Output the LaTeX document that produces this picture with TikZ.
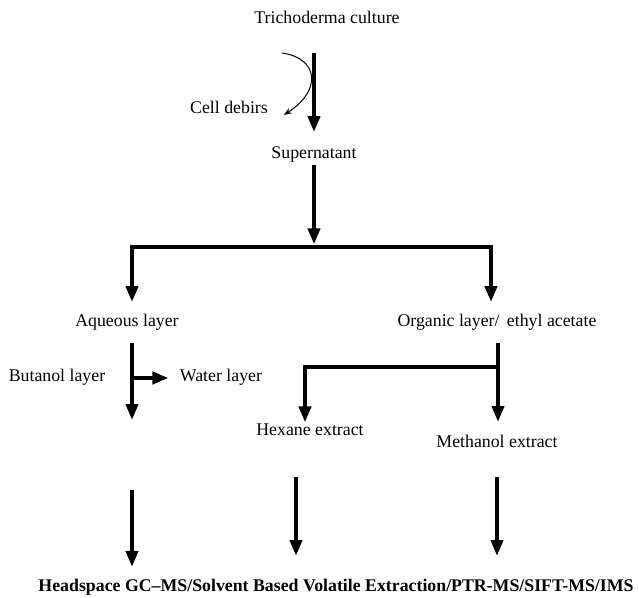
\documentclass[tikz,border=0pt]{standalone}
\usepackage{fontspec}
\setmainfont{Liberation Serif}
\usepackage{tikz}
\usetikzlibrary{arrows.meta,positioning,calc}

\begin{document}
\begin{tikzpicture}[
    x=0.75pt, y=-0.75pt,
    stage/.style={inner sep=2pt, text height=0.75em, text depth=0.25em, font=\fontsize{13.35}{16}\selectfont},
    result/.style={stage, font=\fontsize{13.35}{16}\selectfont\bfseries},
    flow/.style={-{Triangle[length=12pt,width=9pt]}, line width=3pt, draw=black},
    curl/.style={-{Stealth[length=6pt,width=4.5pt]}, line width=0.75pt}
]
\useasboundingbox (0,0) rectangle (639,597);
\node[stage] (tc) at (327,20) {Trichoderma culture};
\node[stage] (debris) at (229,110) {Cell debirs};
\node[stage] (sup) at (314,155) {Supernatant};
\node[stage] (aq) at (127,323) {Aqueous layer};
\node[stage] (org) at (497,323) {Organic layer/\, ethyl acetate};
\node[stage] (but) at (57,378) {Butanol layer};
\node[stage] (wat) at (221,378) {Water layer};
\node[stage] (hex) at (310,432) {Hexane extract};
\node[stage] (meth) at (497,444) {Methanol extract};
\node[result] (res) at (336,588) {Headspace GC--MS/Solvent Based Volatile Extraction/PTR-MS/SIFT-MS/IMS};
\coordinate (split) at (314,247);
\coordinate (lft) at (132,247);
\coordinate (rgt) at (491,247);
\coordinate (butend) at (132,420);
\coordinate (obr) at (498,367);
% culture to supernatant, debris aside
\draw[flow, shorten <=17.5pt, shorten >=10pt] (sup |- tc.south) -- (sup.north);
\draw[curl] ([shift={(-45,23.4)}]tc.south) .. controls +(36,5) and +(39,-25) .. ([shift={(13,5)}]debris.east);
\draw[flow, shorten >=2pt] (sup.south) -- (split);
\draw[flow, shorten >=8.5pt] (split) -| (lft |- aq.north);
\draw[flow, shorten >=8.5pt] (split) -| (rgt |- org.north);
% aqueous side
\draw[flow, shorten <=7.8pt] (butend |- aq.south) -- (butend);
\draw[flow, shorten >=6.4pt] (butend |- wat) -- (wat.west);
% organic side
\draw[flow, shorten <=7.8pt, shorten >=9.3pt] (obr |- org.south) -- (obr |- meth.north);
\draw[flow] (obr) -| ([xshift=-3.75pt]hex.north);
% to the methods
\draw[flow, shorten <=52.5pt, shorten >=8.6pt] (butend) -- (butend |- res.north);
\draw[flow, shorten <=26.5pt, shorten >=16.8pt] ([xshift=-10.5pt]hex.south) -- ([xshift=-10.5pt]hex.south |- res.north);
\draw[flow, shorten <=17.5pt, shorten >=16.8pt] (meth.south) -- (meth.south |- res.north);
\end{tikzpicture}
\end{document}
